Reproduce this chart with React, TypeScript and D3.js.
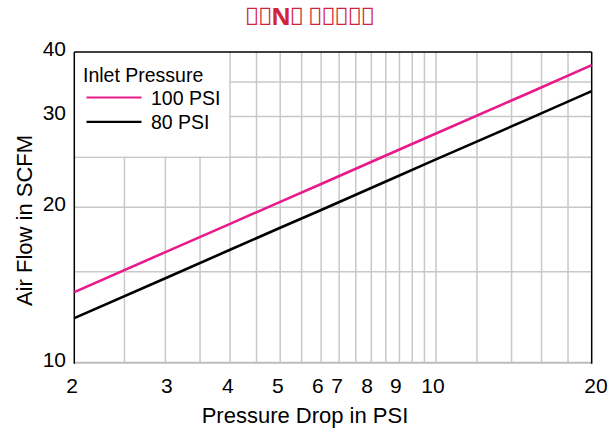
import React from "react";
import * as d3 from "d3";

const pressureDrop = [2, 3, 4, 5, 6, 8, 10, 15, 20];
const flow100 = [13.7, 16.38, 18.58, 20.5, 22.2, 25.2, 27.81, 33.21, 37.72];
const flow80 = [12.2, 14.58, 16.55, 18.26, 19.77, 22.44, 24.77, 29.58, 33.59];
const seriesNames = ["100 PSI", "80 PSI"];
const seriesColors = ["#e8198b", "#000000"];
const xTicks = [2, 3, 4, 5, 6, 7, 8, 9, 10, 20];
const xTickLabelAt = [1.98, 3.02, 3.96, 4.95, 5.91, 6.44, 7.36, 8.37, 9.87, 20.38];
const yTicks = [10, 20, 30, 40];
const xGrid = [2.5, 3, 3.5, 4, 4.5, 5, 5.5, 6, 6.5, 7, 7.5, 8, 8.5, 9, 9.5, 10, 12, 14, 16, 18];
const yGrid = [15, 20, 25, 30, 35];
const title = "\uE000\uE001N\uE002 \uE003\uE004\uE005\uE006\uE007";

const W = 616;
const H = 432;
const FONT = "Arial, 'Liberation Sans', sans-serif";

export default function App() {
  const x = d3.scaleLog().domain([2, 20]).range([74.3, 591.7]);
  const y = d3.scaleLog().domain([10, 40]).range([362.7, 52]);
  const line = d3
    .line<[number, number]>()
    .x((d) => x(d[0]))
    .y((d) => y(d[1]));
  const series = [flow100, flow80];
  const [x0, x1] = x.range();
  const [y0, y1] = y.range();
  return (
    <svg
      width={W}
      height={H}
      style={{ position: "absolute", left: 0, top: 0, background: "#fff" }}
      fontFamily={FONT}
    >
      {xGrid.map((v) => (
        <line key={"gx" + v} x1={x(v)} x2={x(v)} y1={y0} y2={y1} stroke="#c8c8c8" strokeWidth={1.5} />
      ))}
      {yGrid.map((v) => (
        <line key={"gy" + v} x1={x0} x2={x1} y1={y(v)} y2={y(v)} stroke="#c8c8c8" strokeWidth={1.5} />
      ))}
      {/* legend background */}
      <rect x={x(2)} y={y(40)} width={x(4) - x(2) - 1} height={y(25) - y(40) - 1} fill="#fff" />
      {/* frame */}
      <line x1={x0} x2={x1} y1={y0} y2={y0} stroke="#bdbdbd" strokeWidth={2} />
      <line x1={x0} x2={x0} y1={y0 + 1} y2={y1} stroke="#000" strokeWidth={1.5} />
      <line x1={x1} x2={x1} y1={y0 + 1} y2={y1} stroke="#000" strokeWidth={1.5} />
      <line x1={x0} x2={x1} y1={y1} y2={y1} stroke="#000" strokeWidth={1.5} />
      {series.map((s, i) => (
        <path
          key={"s" + i}
          d={line(pressureDrop.map((p, j) => [p, s[j]] as [number, number])) || ""}
          fill="none"
          stroke={seriesColors[i]}
          strokeWidth={2.6}
        />
      ))}
      {/* legend */}
      <text x={83} y={82} fontSize={19.5} fill="#000">Inlet Pressure</text>
      {seriesNames.map((n, i) => (
        <g key={"lg" + i}>
          <line x1={86.5} x2={141.5} y1={97.5 + i * 24.3} y2={97.5 + i * 24.3} stroke={seriesColors[i]} strokeWidth={2.2} />
          <text x={151} y={105 + i * 24.3} fontSize={19.5} fill="#000">{n}</text>
        </g>
      ))}
      {/* x tick labels */}
      {xTicks.map((t, i) => (
        <text key={"xt" + t} x={x(xTickLabelAt[i])} y={393} fontSize={21} textAnchor="middle" fill="#000">
          {t}
        </text>
      ))}
      {/* y tick labels */}
      {yTicks.map((t) => (
        <text key={"yt" + t} x={66} y={y(t) + 4} fontSize={21} textAnchor="end" fill="#000">
          {t}
        </text>
      ))}
      <text x={305} y={423.3} fontSize={22} textAnchor="middle" fill="#000">
        Pressure Drop in PSI
      </text>
      <text
        transform={`translate(32,220.5) rotate(-90)`}
        fontSize={22}
        textAnchor="middle"
        fill="#000"
      >
        Air Flow in SCFM
      </text>
      <text
        x={245}
        y={25}
        fontSize={24}
        fontWeight="bold"
        fontFamily="'Noto Sans', sans-serif"
        textLength={130}
        lengthAdjust="spacing"
        fill="#d2233c"
      >
        {title}
      </text>
    </svg>
  );
}
